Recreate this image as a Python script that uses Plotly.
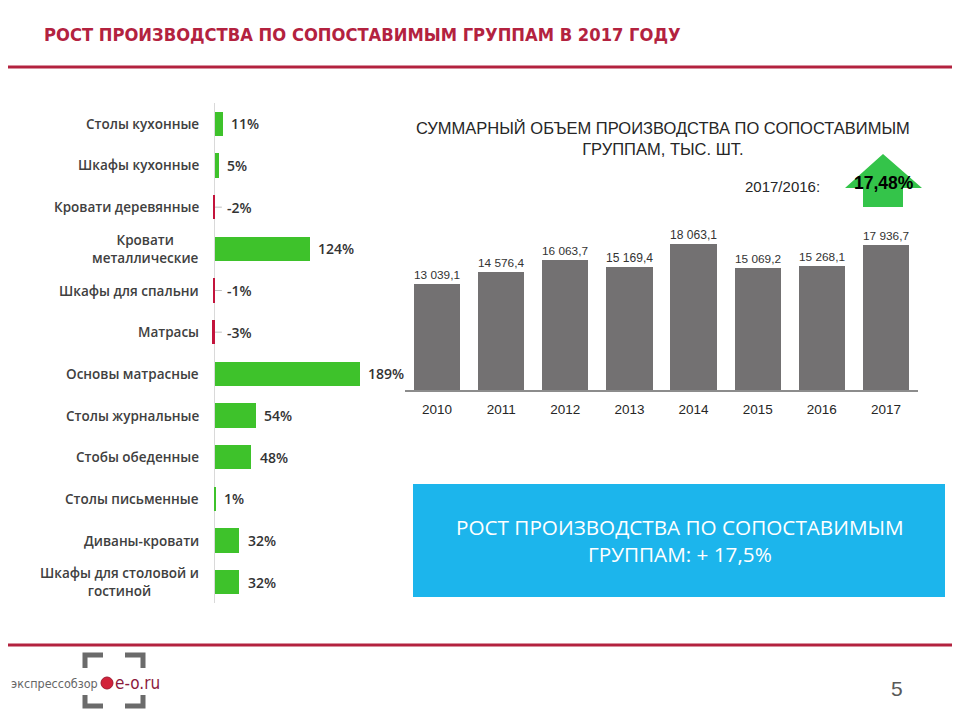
import plotly.graph_objects as go

# the page body has an 8px margin, so the figure sits at (8, 8)
OFF = 8
W, H = 960 - OFF, 720 - OFF

# left chart: growth by comparable groups, %
categories = [
    "Столы кухонные",
    "Шкафы кухонные",
    "Кровати деревянные",
    "Кровати<br>металлические",
    "Шкафы для спальни",
    "Матрасы",
    "Основы матрасные",
    "Столы журнальные",
    "Стобы обеденные",
    "Столы письменные",
    "Диваны-кровати",
    "Шкафы для столовой и<br>гостиной",
]
growth = [11, 5, -2, 124, -1, -3, 189, 54, 48, 1, 32, 32]

# right chart: total volume, thousand units
years = ["2010", "2011", "2012", "2013", "2014", "2015", "2016", "2017"]
volume = [13039.1, 14576.4, 16063.7, 15169.4, 18063.1, 15069.2, 15268.1, 17936.7]

ratio_label = "17,48%"

CRIMSON = "#b3223f"
GREEN = "#3ec22b"
RED = "#c3143c"
GRAY_BAR = "#737172"
BLUE = "#1cb5ec"
COND = "DejaVu Sans Condensed, sans-serif"
ARIAL = "Liberation Sans, Arial, sans-serif"


def px(x):
    return (x - OFF) / W


def py(y):
    return 1 - (y - OFF) / H


def fmt(v):
    return f"{v:,.1f}".replace(",", " ").replace(".", ",")


fig = go.Figure()

# horizontal bars
fig.add_trace(go.Bar(
    y=categories, x=growth, orientation="h",
    marker=dict(color=[GREEN if v >= 0 else RED for v in growth], line_width=0),
    width=0.58, xaxis="x", yaxis="y", hoverinfo="x+y",
))

# volume bars
fig.add_trace(go.Bar(
    x=years, y=volume,
    marker=dict(color=GRAY_BAR, line_width=0),
    width=0.72,
    text=[fmt(v) for v in volume], textposition="outside",
    textfont=dict(family=ARIAL, size=13, color="#333333"),
    cliponaxis=False, xaxis="x2", yaxis="y2",
))

annotations = []
shapes = []

# category labels + value labels for the left chart
for c, v in zip(categories, growth):
    annotations.append(dict(
        x=px(201), xref="paper", y=c, yref="y", text=c,
        xanchor="right", yanchor="middle", align="center", showarrow=False,
        font=dict(family="Open Sans", size=13.5, color="#404040", weight=600),
    ))
    annotations.append(dict(
        x=max(v, 0), xref="x", y=c, yref="y", text=f"{v}%",
        xanchor="left", yanchor="middle", showarrow=False,
        xshift=6 if v >= 0 else 10,
        font=dict(family="Open Sans", size=14, color="#333333", weight=600),
    ))
    if v < 0:
        shapes.append(dict(type="line", xref="x", yref="y", x0=0, x1=9, y0=c, y1=c,
                           line=dict(color="#bfbfbf", width=1)))

# page title + rules
annotations.append(dict(
    x=px(42), y=py(34), xref="paper", yref="paper", xanchor="left", yanchor="middle",
    text="<b>РОСТ ПРОИЗВОДСТВА ПО СОПОСТАВИМЫМ ГРУППАМ В 2017 ГОДУ</b>", showarrow=False,
    font=dict(family=COND, size=18.2, color=CRIMSON),
))
for yline in (67, 645):
    shapes.append(dict(type="line", xref="paper", yref="paper", x0=0, x1=1,
                       y0=py(yline), y1=py(yline), line=dict(color=CRIMSON, width=3)))

# right chart title
annotations.append(dict(
    x=px(663), y=py(139), xref="paper", yref="paper", xanchor="center", yanchor="middle",
    text="СУММАРНЫЙ ОБЪЕМ ПРОИЗВОДСТВА ПО СОПОСТАВИМЫМ<br>ГРУППАМ, ТЫС. ШТ.", showarrow=False,
    font=dict(family=ARIAL, size=16.5, color="#262626"),
))
annotations.append(dict(
    x=px(782), y=py(186), xref="paper", yref="paper", xanchor="center", yanchor="middle",
    text="2017/2016:", showarrow=False,
    font=dict(family=ARIAL, size=15, color="#262626"),
))

# green arrow
arrow = [(883, 154), (922, 188), (903, 188), (903, 207), (863, 207), (863, 188), (845, 188)]
path = "M " + " L ".join(f"{px(a)} {py(b)}" for a, b in arrow) + " Z"
shapes.append(dict(type="path", xref="paper", yref="paper", path=path,
                   fillcolor="#34c44a", line=dict(width=0)))
annotations.append(dict(
    x=px(884), y=py(183), xref="paper", yref="paper", xanchor="center", yanchor="middle",
    text=f"<b>{ratio_label}</b>", showarrow=False,
    font=dict(family=ARIAL, size=17.5, color="#000000"),
))

# blue summary box
shapes.append(dict(type="rect", xref="paper", yref="paper", x0=px(413), x1=px(945),
                   y0=py(597), y1=py(484), fillcolor=BLUE, line=dict(width=0), layer="below"))
annotations.append(dict(
    x=px(680), y=py(540), xref="paper", yref="paper", xanchor="center", yanchor="middle",
    text="РОСТ ПРОИЗВОДСТВА ПО СОПОСТАВИМЫМ<br>ГРУППАМ: + 17,5%", showarrow=False,
    font=dict(family="Open Sans", size=20.7, color="white"),
))

# footer: logo brackets, dot, text and page number
brackets = [
    [(103, 655), (85, 655), (85, 668)],
    [(125, 655), (143, 655), (143, 668)],
    [(85, 695), (85, 706), (103, 706)],
    [(143, 695), (143, 706), (125, 706)],
]
for pts in brackets:
    p = "M " + " L ".join(f"{px(a)} {py(b)}" for a, b in pts)
    shapes.append(dict(type="path", xref="paper", yref="paper", path=p,
                       line=dict(color="#6b6b6b", width=5)))
shapes.append(dict(type="circle", xref="paper", yref="paper",
                   x0=px(101), x1=px(113), y0=py(689), y1=py(677),
                   fillcolor="#d2223a", line=dict(color="#a01830", width=1)))
annotations.append(dict(
    x=px(100), y=py(683), xref="paper", yref="paper", xanchor="right", yanchor="middle",
    text="экспрессобзор", showarrow=False,
    font=dict(family=COND, size=12.5, color="#666666"),
))
annotations.append(dict(
    x=px(113), y=py(683), xref="paper", yref="paper", xanchor="left", yanchor="middle",
    text="e-o.ru", showarrow=False,
    font=dict(family=COND, size=17, color="#8c1a3c"),
))
annotations.append(dict(
    x=px(897), y=py(688), xref="paper", yref="paper", xanchor="center", yanchor="middle",
    text="5", showarrow=False,
    font=dict(family=ARIAL, size=21, color="#595959"),
))

fig.update_layout(
    width=W, height=H, margin=dict(l=0, r=0, t=0, b=0),
    paper_bgcolor="white", plot_bgcolor="rgba(0,0,0,0)",
    showlegend=False, bargap=0,
    xaxis=dict(domain=[px(207.3), px(383.7)], range=[-10, 220], anchor="y",
               showgrid=False, showticklabels=False, showline=False,
               zeroline=True, zerolinecolor="#d9d9d9", zerolinewidth=1, fixedrange=True),
    yaxis=dict(domain=[py(603), py(103)], type="category", categoryarray=categories,
               autorange="reversed", anchor="x", showgrid=False,
               showticklabels=False, showline=False, zeroline=False),
    xaxis2=dict(domain=[px(405), px(918)], anchor="y2", showgrid=False,
                showline=True, linecolor="#8c8c8c", linewidth=1.5, ticks="",
                ticklabelstandoff=6,
                tickfont=dict(family=ARIAL, size=13.5, color="#262626")),
    yaxis2=dict(domain=[py(390), py(228.4)], range=[0, 20000], anchor="x2",
                visible=False),
    annotations=annotations,
    shapes=shapes,
)

fig.write_html("out.html")
